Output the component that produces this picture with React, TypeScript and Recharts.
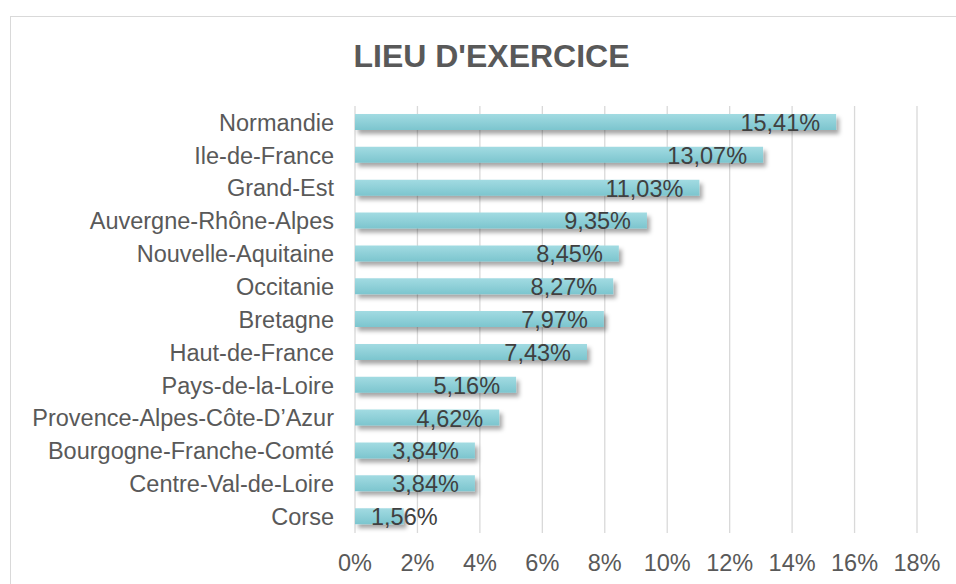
import React from "react"
import { Bar, BarChart, CartesianGrid, LabelList, XAxis, YAxis } from "recharts"

const regions = [
    "Normandie",
    "Ile-de-France",
    "Grand-Est",
    "Auvergne-Rhône-Alpes",
    "Nouvelle-Aquitaine",
    "Occitanie",
    "Bretagne",
    "Haut-de-France",
    "Pays-de-la-Loire",
    "Provence-Alpes-Côte-D’Azur",
    "Bourgogne-Franche-Comté",
    "Centre-Val-de-Loire",
    "Corse",
]

const shares = [15.41, 13.07, 11.03, 9.35, 8.45, 8.27, 7.97, 7.43, 5.16, 4.62, 3.84, 3.84, 1.56]

const xTicks = [0, 2, 4, 6, 8, 10, 12, 14, 16, 18]

const data = regions.map((name, i) => ({ name, value: shares[i] }))

const FONT = "'Liberation Sans', Arial, sans-serif"
const FS = 23.5

const fmt = (v: number) => v.toFixed(2).replace(".", ",") + "%"

// rough Arial width so short bars push the label right like Excel does
const textWidth = (s: string) =>
    s.split("").reduce((w, c) => w + (c === "," ? 0.278 : c === "%" ? 0.889 : 0.556), 0) * FS

const InsideEndLabel = (props: any) => {
    const { x, y, width, height, value } = props
    const text = fmt(value)
    const tw = textWidth(text)
    let tx = x + width - 16
    let anchor: "end" | "start" = "end"
    if (width - 32 < tw) {
        tx = x + 16
        anchor = "start"
    }
    return (
        <text
            x={tx}
            y={y + height / 2}
            dy="0.38em"
            textAnchor={anchor}
            fill="#404040"
            fontSize={FS}
            fontFamily={FONT}
        >
            {text}
        </text>
    )
}

export default function App() {
    return (
        <div
            style={{
                position: "fixed",
                left: 0,
                top: 0,
                width: 956,
                height: 584,
                overflow: "hidden",
                background: "#fff",
                fontFamily: FONT,
            }}
        >
            <div
                style={{
                    position: "absolute",
                    left: 10,
                    top: 16,
                    width: 962,
                    height: 620,
                    border: "1px solid #d9d9d9",
                }}
            />
            <div
                style={{
                    position: "absolute",
                    left: 0,
                    top: 40,
                    width: 983,
                    textAlign: "center",
                    fontSize: 32,
                    lineHeight: "32px",
                    fontWeight: "bold",
                    color: "#595959",
                }}
            >
                LIEU D'EXERCICE
            </div>
            <div style={{ position: "absolute", left: 0, top: 0 }}>
                <BarChart
                    width={956}
                    height={584}
                    data={data}
                    layout="vertical"
                    margin={{ top: 106, right: 39, bottom: 11, left: 5 }}
                >
                    <defs>
                        <linearGradient id="barFill" x1="0" y1="0" x2="0" y2="1">
                            <stop offset="0%" stopColor="#a2dbe2" />
                            <stop offset="100%" stopColor="#7cc5ce" />
                        </linearGradient>
                        <filter id="barShadow" x="-10%" y="-50%" width="130%" height="250%">
                            <feDropShadow dx="3" dy="4" stdDeviation="2.2" floodColor="#000" floodOpacity="0.35" />
                        </filter>
                    </defs>
                    <CartesianGrid horizontal={false} stroke="#d9d9d9" strokeWidth={1.3} />
                    <XAxis
                        type="number"
                        domain={[0, 18]}
                        ticks={xTicks}
                        interval={0}
                        tickFormatter={(v) => `${v}%`}
                        tick={{ fill: "#595959", fontSize: FS, fontFamily: FONT }}
                        axisLine={false}
                        tickLine={false}
                        tickSize={6}
                        tickMargin={15}
                        height={40}
                    />
                    <YAxis
                        type="category"
                        dataKey="name"
                        width={350}
                        interval={0}
                        tick={{ fill: "#595959", fontSize: FS, fontFamily: FONT }}
                        axisLine={false}
                        tickLine={false}
                        tickSize={6}
                        tickMargin={15}
                    />
                    <Bar
                        dataKey="value"
                        barSize={16}
                        fill="url(#barFill)"
                        filter="url(#barShadow)"
                        isAnimationActive={false}
                    >
                        <LabelList dataKey="value" content={InsideEndLabel} />
                    </Bar>
                </BarChart>
            </div>
        </div>
    )
}
